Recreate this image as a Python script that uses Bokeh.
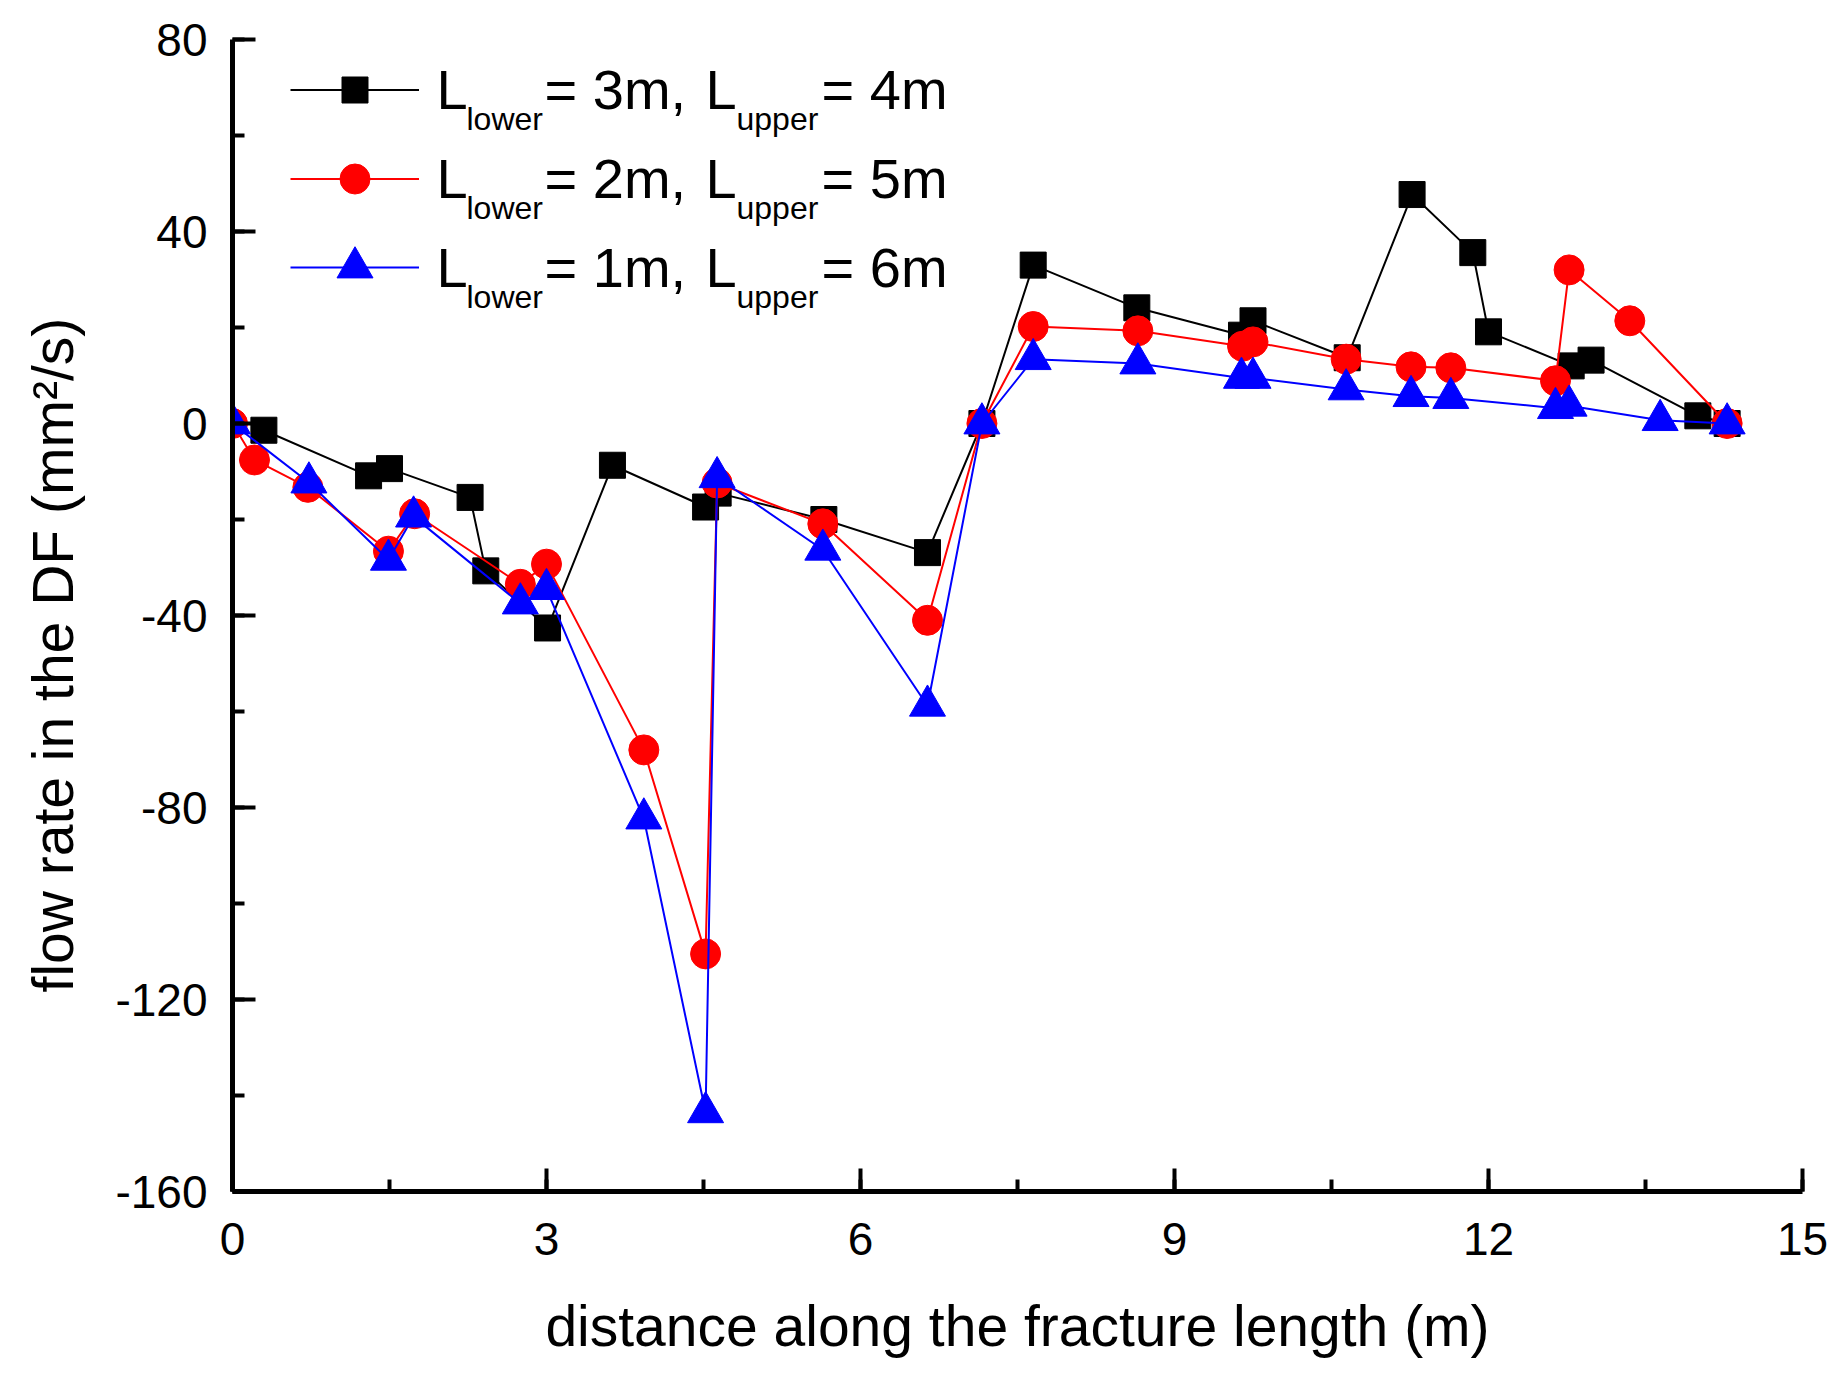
from bokeh.plotting import figure
from bokeh.models import (Range1d, SingleIntervalTicker, Legend, LegendItem, Label,
                          PrintfTickFormatter)
from bokeh.core.properties import value
from bokeh.embed import file_html
from bokeh.resources import INLINE

# ---------------- data ----------------
x_black = [0.30, 1.30, 1.50, 2.27, 2.42, 3.01, 3.63, 4.52, 4.64, 5.65, 6.64, 7.16,
           7.65, 8.64, 9.64, 9.75, 10.65, 11.27, 11.85, 12.00, 12.79, 12.98, 14.00, 14.28]
y_black = [-1.4, -10.9, -9.4, -15.4, -30.7, -42.6, -8.7, -17.4, -14.5, -20.0, -26.9, 0.0,
           33.0, 24.1, 18.4, 21.4, 13.7, 47.7, 35.6, 19.1, 12.0, 13.2, 1.6, 0.0]

x_red = [0.00, 0.21, 0.72, 1.49, 1.74, 2.75, 3.00, 3.93, 4.52, 4.63, 5.64, 6.64, 7.16,
         7.65, 8.65, 9.65, 9.75, 10.64, 11.26, 11.64, 12.64, 12.77, 13.35, 14.28]
y_red = [0.0, -7.6, -13.3, -26.6, -18.8, -33.5, -29.3, -68.0, -110.5, -12.4, -20.9, -41.0, 0.0,
         20.2, 19.3, 16.1, 17.0, 13.4, 11.8, 11.6, 8.9, 32.0, 21.4, 0.0]

x_blue = [0.00, 0.73, 1.49, 1.73, 2.75, 3.00, 3.93, 4.52, 4.63, 5.64, 6.64, 7.16,
          7.65, 8.65, 9.64, 9.75, 10.64, 11.26, 11.64, 12.64, 12.77, 13.64, 14.28]
y_blue = [0.0, -12.3, -28.4, -19.4, -37.5, -34.5, -82.3, -143.5, -11.2, -26.3, -58.8, 0.0,
          13.4, 12.5, 9.5, 9.5, 7.1, 5.7, 5.3, 3.2, 3.7, 0.7, 0.0]

legend_lower = ["3m", "2m", "1m"]
legend_upper = ["4m", "5m", "6m"]

x_label = "distance along the fracture length (m)"
y_label = "flow rate in the DF (mm\u00b2/s)" + "\u00a0" * 5

# ---------------- layout constants ----------------
W, H = 1841, 1379
BL, BR, BT, BB = 232, 39, 39, 188
FW, FH = W - BL - BR, H - BT - BB
X0, X1, Y0, Y1 = 0, 15, -160, 80
FONT = "Liberation Sans"

p = figure(width=W, height=H, output_backend="svg", toolbar_location=None,
           x_range=Range1d(X0, X1), y_range=Range1d(Y0, Y1),
           min_border_left=BL, min_border_right=BR, min_border_top=BT, min_border_bottom=BB)
p.outline_line_color = None
p.xgrid.visible = False
p.ygrid.visible = False
p.background_fill_color = "white"
p.border_fill_color = "white"

p.xaxis.ticker = SingleIntervalTicker(interval=3, num_minor_ticks=2)
p.yaxis.ticker = SingleIntervalTicker(interval=40, num_minor_ticks=2)
for ax in (p.xaxis[0], p.yaxis[0]):
    ax.formatter = PrintfTickFormatter(format="%d")
    ax.axis_line_width = 5
    ax.axis_line_color = "black"
    ax.major_tick_line_width = 4
    ax.minor_tick_line_width = 4
    ax.major_tick_in = 23
    ax.major_tick_out = 0
    ax.minor_tick_in = 12
    ax.minor_tick_out = 0
    ax.major_label_text_font = FONT
    ax.major_label_text_font_size = "46px"
    ax.major_label_text_color = "black"
    ax.axis_label_text_font = FONT
    ax.axis_label_text_font_size = "57px"
    ax.axis_label_text_font_style = "normal"
    ax.axis_label_text_color = "black"
p.xaxis.major_label_standoff = 31
p.yaxis.major_label_standoff = 25
p.xaxis.axis_label_standoff = 36
p.yaxis.axis_label_standoff = 27
p.xaxis.axis_label = x_label
p.yaxis.axis_label = y_label

series = [
    (x_black, y_black, "black", "square", 26),
    (x_red, y_red, "red", "circle", 30),
    (x_blue, y_blue, "blue", "triangle", 36),
]

renderers = []
for xs, ys, col, mk, sz in series:
    ln = p.line(xs, ys, line_color=col, line_width=2)
    sc = p.scatter(xs, ys, marker=mk, size=sz, fill_color=col, line_color=col)
    renderers.append((ln, sc, sz))

# legend samples (one legend per row so marker size follows glyph height)
row_centers = [50, 139, 228]      # px from frame top
glyph_left = 58                    # px from frame left
glyph_w = 129
for (ln, sc, sz), c in zip(renderers, row_centers):
    gh = int(round(sz / 0.4))
    leg = Legend(items=[LegendItem(label=value(""), renderers=[ln, sc])],
                 location=(glyph_left, FH - c - gh / 2),
                 glyph_width=glyph_w, glyph_height=gh, label_height=0, label_width=0,
                 label_standoff=0, padding=0, margin=0, spacing=0,
                 border_line_color=None, background_fill_alpha=0,
                 label_text_font_size="1px")
    p.add_layout(leg)

# legend texts with subscripts
def dx(px):   # page px -> data x
    return X0 + (px - BL) / FW * (X1 - X0)

def dy(py):   # page px -> data y
    return Y1 - (py - BT) / FH * (Y1 - Y0)

row_mid = [89, 178, 267]   # page px, vertical centre of the capitals
for lo, up, c in zip(legend_lower, legend_upper, row_mid):
    pieces = [
        ("L", 436, c, "56px"),
        ("lower", 466, c + 29, "32px"),
        ("= " + lo + ", ", 544, c, "56px"),
        ("L", 705, c, "56px"),
        ("upper", 736, c + 29, "32px"),
        ("= " + up, 821, c, "56px"),
    ]
    for txt, px, py, fs in pieces:
        p.add_layout(Label(x=dx(px), y=dy(py), text=txt, text_font=FONT,
                           text_font_size=fs, text_color="black",
                           text_baseline="middle", text_align="left"))

open("out.html", "w").write(file_html(p, INLINE))
